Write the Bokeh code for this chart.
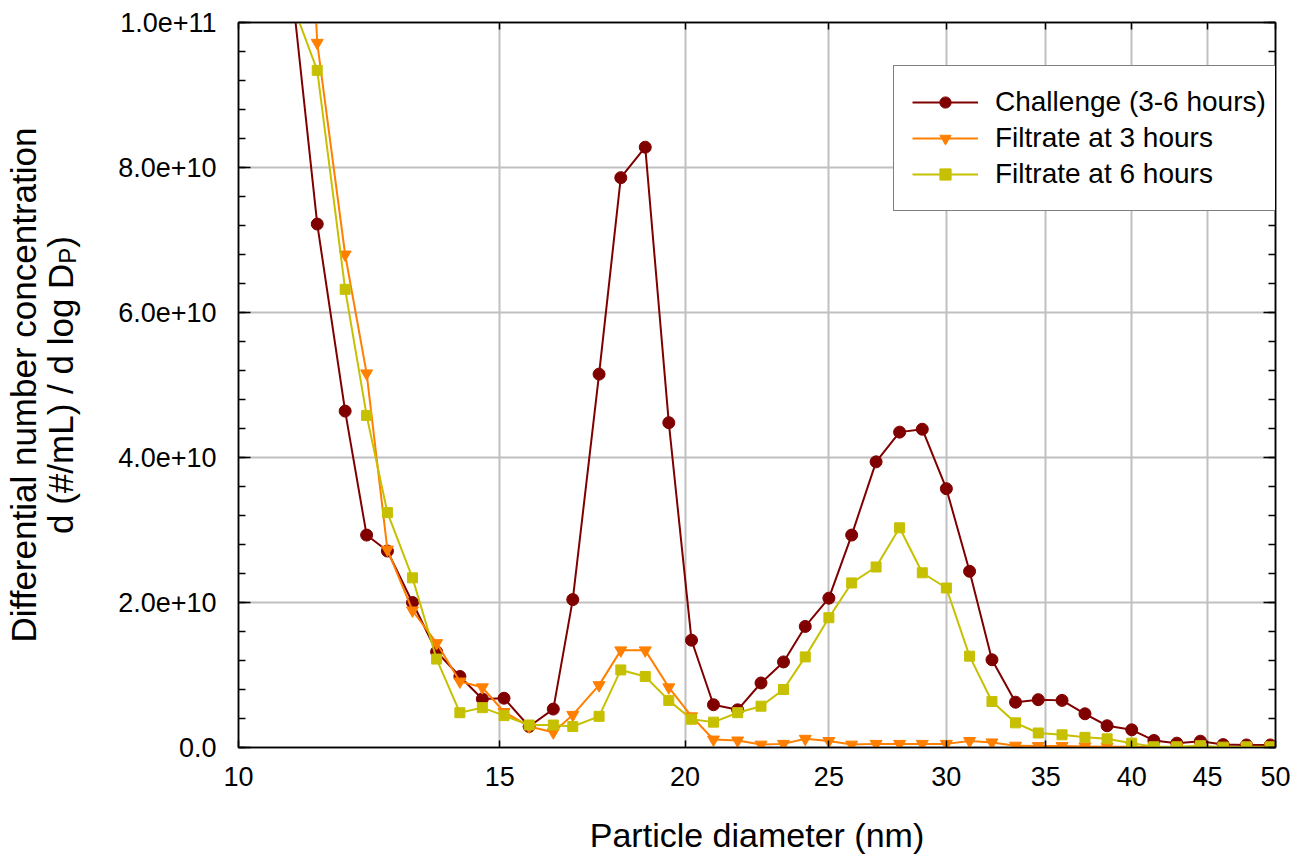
import math
from bokeh.plotting import figure
from bokeh.layouts import row
from bokeh.models import (LogAxis, LinearAxis, FixedTicker, Range1d, Legend,
                          LegendItem)
from bokeh.core.properties import value
from bokeh.embed import file_html
from bokeh.resources import INLINE

# ---------------- data ----------------
diameter_nm = [10.9, 11.3, 11.8, 12.2, 12.6, 13.1, 13.6, 14.1, 14.6, 15.1,
               15.7, 16.3, 16.8, 17.5, 18.1, 18.8, 19.5, 20.2, 20.9, 21.7,
               22.5, 23.3, 24.1, 25.0, 25.9, 26.9, 27.9, 28.9, 30.0, 31.1,
               32.2, 33.4, 34.6, 35.9, 37.2, 38.5, 40.0, 41.4, 42.9, 44.5,
               46.1, 47.8, 49.6]

# values in units of 1e9 (#/mL)
challenge_e9 = [102, 72.2, 46.4, 29.3, 27.1, 20.0, 13.2, 9.8, 6.7, 6.8,
                2.9, 5.3, 20.4, 51.5, 78.6, 82.8, 44.8, 14.8, 5.9, 5.2,
                8.9, 11.8, 16.7, 20.6, 29.3, 39.4, 43.5, 43.9, 35.7, 24.3,
                12.1, 6.25, 6.6, 6.5, 4.65, 3.0, 2.44, 0.97, 0.6, 0.87,
                0.4, 0.35, 0.35]
filtrate_3h_e9 = [162, 97.2, 68.0, 51.6, 27.3, 18.9, 14.4, 9.1, 8.3, 4.9,
                  2.9, 2.1, 4.5, 8.6, 13.4, 13.4, 8.3, 4.3, 1.1, 0.97,
                  0.4, 0.5, 1.2, 0.9, 0.4, 0.5, 0.5, 0.5, 0.5, 0.9,
                  0.7, 0.25, 0.2, 0.2, 0.15, 0.1, 0.1, 0.05, 0.05, 0.05,
                  0.05, 0.05, 0.05]
filtrate_6h_e9 = [102, 93.4, 63.2, 45.8, 32.4, 23.4, 12.2, 4.8, 5.5, 4.4,
                  3.1, 3.1, 2.9, 4.3, 10.7, 9.8, 6.5, 3.9, 3.5, 4.8,
                  5.7, 8.0, 12.5, 17.9, 22.7, 24.9, 30.3, 24.1, 22.0, 12.6,
                  6.35, 3.4, 2.0, 1.75, 1.4, 1.2, 0.6, 0.1, 0.1, 0.25,
                  0.05, 0.1, 0.1]

series_names = ["Challenge (3-6 hours)", "Filtrate at 3 hours", "Filtrate at 6 hours"]

x_ticks = [10, 15, 20, 25, 30, 35, 40, 45, 50]
x_tick_labels = ["10", "15", "20", "25", "30", "35", "40", "45", "50"]
y_ticks = [0, 2e10, 4e10, 6e10, 8e10, 1e11]
y_tick_labels = ["0.0", "2.0e+10", "4.0e+10", "6.0e+10", "8.0e+10", "1.0e+11"]
y_minor_step = 4e9

y_title_line1 = "Differential number concentration"
y_title_line2 = "d (#/mL) / d log D"
y_title_sub = "P"
y_title_end = ")"

# ---------------- layout constants ----------------
W, H = 1293, 856
TITLE_W = 100
LEFT, RIGHT, TOP, BOTTOM = 238, 18, 22, 109
FONT = "Liberation Sans"
X0, X1 = 10, 50
Y0, Y1 = 0, 1e11

frame_t = TOP
frame_b = H - BOTTOM

p = figure(width=W - TITLE_W, height=H, x_axis_type="log",
           x_range=Range1d(X0, X1), y_range=Range1d(Y0, Y1),
           output_backend="svg", toolbar_location=None,
           min_border_left=LEFT - TITLE_W, min_border_right=RIGHT,
           min_border_top=TOP, min_border_bottom=BOTTOM,
           background_fill_color="white", border_fill_color="white")
p.outline_line_color = "black"
p.outline_line_width = 1.5

# grids
p.xgrid.ticker = FixedTicker(ticks=x_ticks[1:-1])
p.ygrid.ticker = FixedTicker(ticks=y_ticks[1:-1])
for g in (p.xgrid, p.ygrid):
    g.grid_line_color = "#c0c0c0"
    g.grid_line_width = 2

y_minor = [i * y_minor_step for i in range(int(Y1 / y_minor_step) + 1)]

# bottom axis
xa = p.xaxis[0]
xa.ticker = FixedTicker(ticks=x_ticks)
xa.major_label_overrides = {t: l for t, l in zip(x_ticks, x_tick_labels)}
xa.major_tick_in = 7
xa.major_tick_out = 0
xa.minor_tick_in = 0
xa.minor_tick_out = 0
xa.axis_line_width = 1.5
xa.major_tick_line_width = 1.5
xa.major_label_standoff = 19
xa.major_label_text_font = FONT
xa.major_label_text_font_size = "27px"
xa.major_label_text_color = "black"
xa.axis_label = "Particle diameter (nm)"
xa.axis_label_text_font = FONT
xa.axis_label_text_font_size = "34px"
xa.axis_label_text_font_style = "normal"
xa.axis_label_text_color = "black"
xa.axis_label_standoff = 27

# left axis
ya = p.yaxis[0]
ya.ticker = FixedTicker(ticks=y_ticks, minor_ticks=y_minor)
ya.major_label_overrides = {t: l for t, l in zip(y_ticks, y_tick_labels)}
ya.major_tick_in = 12
ya.major_tick_out = 0
ya.minor_tick_in = 7
ya.minor_tick_out = 0
ya.axis_line_width = 1.5
ya.major_tick_line_width = 1.5
ya.minor_tick_line_width = 1.5
ya.major_label_standoff = 22
ya.major_label_text_font = FONT
ya.major_label_text_font_size = "27px"
ya.major_label_text_color = "black"

# mirrored axes (top / right), ticks only
top_ax = LogAxis(ticker=FixedTicker(ticks=x_ticks),
                 major_label_overrides={t: "" for t in x_ticks},
                 major_tick_in=7, major_tick_out=0, minor_tick_in=0, minor_tick_out=0,
                 major_label_standoff=0, axis_line_width=1.5, major_tick_line_width=1.5,
                 major_label_text_font_size="1px")
right_ax = LinearAxis(ticker=FixedTicker(ticks=y_ticks, minor_ticks=y_minor),
                      major_label_overrides={t: "" for t in y_ticks},
                      major_tick_in=12, major_tick_out=0, minor_tick_in=7, minor_tick_out=0,
                      major_label_standoff=0, axis_line_width=1.5,
                      major_tick_line_width=1.5, minor_tick_line_width=1.5,
                      major_label_text_font_size="1px")
p.add_layout(top_ax, "above")
p.add_layout(right_ax, "right")

# ---------------- series ----------------
colors = ["#800000", "#FF7F00", "#C6C000"]
markers = ["circle", "inverted_triangle", "square"]
sizes = [12, 12, 10]
series = [challenge_e9, filtrate_3h_e9, filtrate_6h_e9]

items = []
for name, vals, c, m, s in zip(series_names, series, colors, markers, sizes):
    yv = [v * 1e9 for v in vals]
    lr = p.line(diameter_nm, yv, line_color=c, line_width=2)
    sr = p.scatter(diameter_nm, yv, marker=m, size=s, fill_color=c, line_color=c, line_width=1)
    items.append(LegendItem(label=name, renderers=[lr, sr]))

legend = Legend(items=items, location=(893 - LEFT, frame_b - 211),
                padding=18, margin=0, spacing=0,
                glyph_width=66, glyph_height=28, label_height=36,
                label_width=330, label_standoff=17,
                label_text_font=FONT, label_text_font_size="28px",
                label_text_color="black",
                border_line_color="black", border_line_width=1.5,
                background_fill_color="white", background_fill_alpha=1.0)
p.add_layout(legend, "center")

# ---------------- y axis title panel (two lines, subscript P) ----------------
# frame of this panel spans the same screen rows as the main frame;
# data y = H - (screen row), data x = screen column (minus a render offset)
t = figure(width=TITLE_W, height=H, title=None,
           x_range=Range1d(0, TITLE_W), y_range=Range1d(H - frame_b, H - frame_t),
           output_backend="svg", toolbar_location=None,
           x_axis_location=None, y_axis_location=None,
           min_border_left=0, min_border_right=0,
           min_border_top=TOP, min_border_bottom=BOTTOM,
           background_fill_color="white", border_fill_color="white")
t.outline_line_color = None
t.xgrid.visible = False
t.ygrid.visible = False

XOFF = 16
fs = 35
center_py = (frame_t + frame_b) / 2
w_main = 7.725 * fs
w_sub = 0.667 * 24
w_par = 0.333 * fs
start_py = center_py + (w_main + w_sub + w_par) / 2

t.text(x=[38.5 - XOFF], y=[H - center_py], text=[y_title_line1], angle=math.pi / 2,
       text_align="center", text_baseline="alphabetic",
       text_font=value(FONT), text_font_size="35px", text_color="black")
t.text(x=[76 - XOFF], y=[H - start_py], text=[y_title_line2], angle=math.pi / 2,
       text_align="left", text_baseline="alphabetic",
       text_font=value(FONT), text_font_size="35px", text_color="black")
t.text(x=[83 - XOFF], y=[H - (start_py - w_main)], text=[y_title_sub], angle=math.pi / 2,
       text_align="left", text_baseline="alphabetic",
       text_font=value(FONT), text_font_size="24px", text_color="black")
t.text(x=[76 - XOFF], y=[H - (start_py - w_main - w_sub)], text=[y_title_end], angle=math.pi / 2,
       text_align="left", text_baseline="alphabetic",
       text_font=value(FONT), text_font_size="35px", text_color="black")

layout = row(t, p, spacing=0)
open("out.html", "w").write(file_html(layout, INLINE))
